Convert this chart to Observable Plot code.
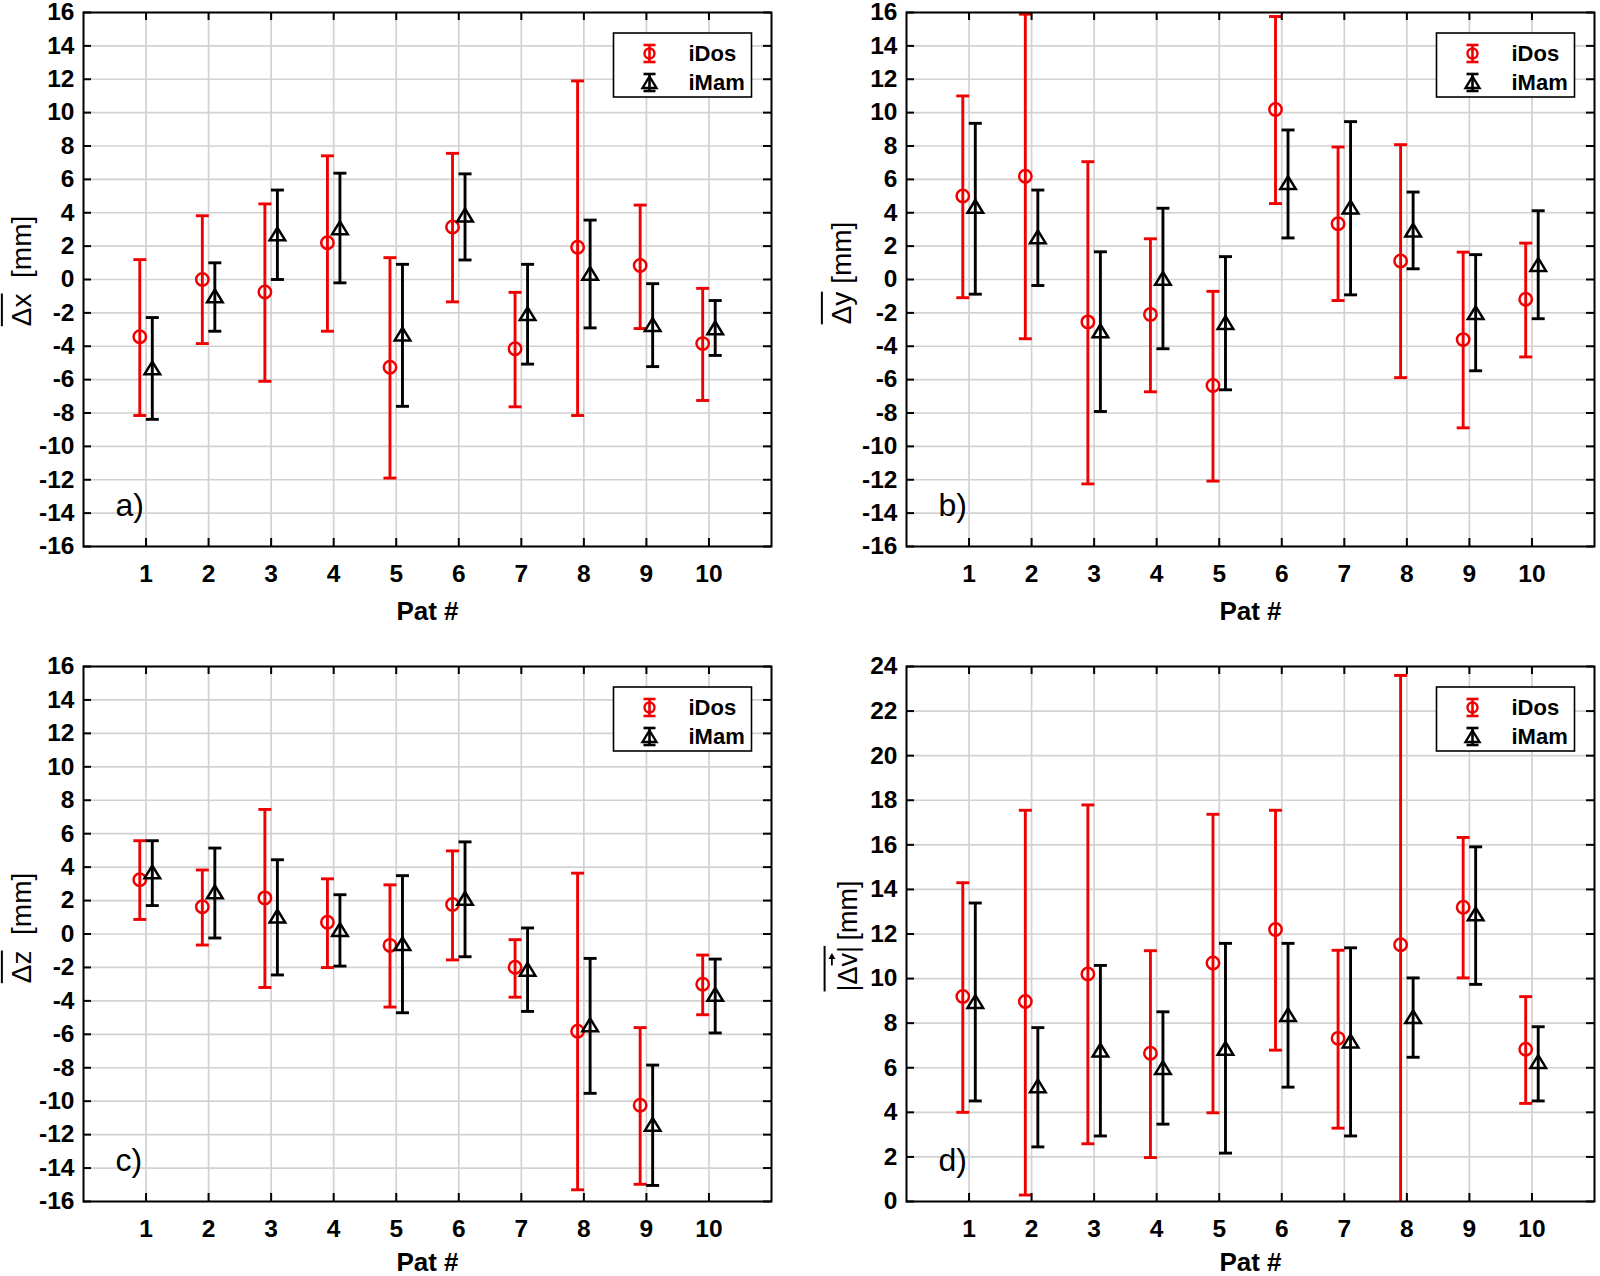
<!DOCTYPE html>
<html>
<head>
<meta charset="utf-8">
<script src="https://cdn.jsdelivr.net/npm/d3@7"></script>
<script src="https://cdn.jsdelivr.net/npm/@observablehq/plot@0.6"></script>
<style>
  html, body { margin: 0; padding: 0; background: #fff; }
  #root { position: relative; width: 1600px; height: 1276px; background: #fff; overflow: hidden; }
</style>
</head>
<body>
<div id="root"></div>
<script>
// ---------------- data ----------------
const pats = [1, 2, 3, 4, 5, 6, 7, 8, 9, 10];
const ticksPM16 = [-16, -14, -12, -10, -8, -6, -4, -2, 0, 2, 4, 6, 8, 10, 12, 14, 16];
const ticks0to24 = [0, 2, 4, 6, 8, 10, 12, 14, 16, 18, 20, 22, 24];
const seriesNames = ["iDos", "iMam"];

// a) mean Δx
const dxIDosMean = [-3.43, 0.0, -0.75, 2.2, -5.26, 3.15, -4.15, 1.93, 0.84, -3.84];
const dxIDosLow  = [-8.15, -3.84, -6.1, -3.1, -11.9, -1.34, -7.63, -8.15, -2.94, -7.25];
const dxIDosHigh = [1.19, 3.82, 4.53, 7.41, 1.31, 7.56, -0.77, 11.9, 4.46, -0.53];
const dxIMamMean = [-5.3, -0.98, 2.73, 3.1, -3.27, 3.86, -2.05, 0.37, -2.7, -2.9];
const dxIMamLow  = [-8.38, -3.1, 0.0, -0.2, -7.6, 1.17, -5.07, -2.9, -5.22, -4.55];
const dxIMamHigh = [-2.28, 1.0, 5.36, 6.37, 0.91, 6.33, 0.91, 3.56, -0.25, -1.26];

// b) mean Δy
const dyIDosMean = [5.0, 6.19, -2.54, -2.09, -6.35, 10.19, 3.34, 1.11, -3.6, -1.18];
const dyIDosLow  = [-1.09, -3.55, -12.25, -6.73, -12.08, 4.55, -1.26, -5.88, -8.89, -4.64];
const dyIDosHigh = [11.0, 15.9, 7.06, 2.44, -0.71, 15.76, 7.94, 8.08, 1.64, 2.18];
const dyIMamMean = [4.38, 2.56, -3.08, 0.07, -2.58, 5.8, 4.34, 2.96, -1.99, 0.9];
const dyIMamLow  = [-0.88, -0.36, -7.91, -4.15, -6.61, 2.49, -0.92, 0.64, -5.47, -2.35];
const dyIMamHigh = [9.36, 5.36, 1.66, 4.27, 1.37, 8.96, 9.46, 5.24, 1.49, 4.12];

// c) mean Δz
const dzIDosMean = [3.25, 1.63, 2.16, 0.7, -0.68, 1.77, -1.99, -5.82, -10.24, -3.0];
const dzIDosLow  = [0.87, -0.66, -3.2, -2.01, -4.37, -1.55, -3.78, -15.3, -14.97, -4.83];
const dzIDosHigh = [5.58, 3.83, 7.45, 3.3, 2.94, 4.97, -0.34, 3.64, -5.6, -1.26];
const dzIMamMean = [3.71, 2.52, 1.07, 0.27, -0.58, 2.13, -2.11, -5.43, -11.38, -3.61];
const dzIMamLow  = [1.7, -0.24, -2.45, -1.92, -4.71, -1.36, -4.63, -9.53, -15.04, -5.92];
const dzIMamHigh = [5.58, 5.14, 4.44, 2.35, 3.49, 5.51, 0.36, -1.46, -7.84, -1.5];

// d) mean |Δv|
const dvIDosMean = [9.2, 8.97, 10.21, 6.65, 10.7, 12.2, 7.32, 11.52, 13.2, 6.83];
const dvIDosLow  = [4.0, 0.29, 2.59, 1.97, 3.98, 6.79, 3.29, -0.6, 10.03, 4.4];
const dvIDosHigh = [14.3, 17.55, 17.79, 11.25, 17.37, 17.55, 11.27, 23.6, 16.33, 9.19];
const dvIMamMean = [8.97, 5.19, 6.79, 6.01, 6.87, 8.38, 7.2, 8.29, 12.9, 6.28];
const dvIMamLow  = [4.51, 2.45, 2.94, 3.47, 2.17, 5.13, 2.94, 6.47, 9.74, 4.51];
const dvIMamHigh = [13.39, 7.8, 10.59, 8.51, 11.58, 11.58, 11.38, 10.03, 15.91, 7.84];

// ---------------- styling ----------------
const FONT = "'Liberation Sans', Arial, Helvetica, sans-serif";
const RED = "#f00000";
const BLACK = "#000000";
const GRID = "#d2d2d2";
const offsets = {iDos: -0.1, iMam: 0.1};
const xDomain = [0, 11];

function makeTable(series, mean, low, high) {
  return pats.map((p, i) => ({series, pat: p, mean: mean[i], low: low[i], high: high[i]}));
}

const capSymbol = {draw(ctx, size) { const r = Math.sqrt(size / Math.PI); ctx.moveTo(-r, 0); ctx.lineTo(r, 0); }};
const triSymbol = {draw(ctx, size) { const r = Math.sqrt(size / Math.PI); const h = r * 0.82;
  ctx.moveTo(0, -h); ctx.lineTo(r, h); ctx.lineTo(-r, h); ctx.closePath(); }};

function seriesMarks(rows, color, symbol, r) {
  const x = d => d.pat + offsets[d.series];
  return [
    Plot.ruleX(rows, {x, y1: "low", y2: "high", stroke: color, strokeWidth: 2.9, clip: true}),
    Plot.dot(rows, {x, y: "low", symbol: capSymbol, r: 6.5, stroke: color, strokeWidth: 2.9, fill: "none", clip: true}),
    Plot.dot(rows, {x, y: "high", symbol: capSymbol, r: 6.5, stroke: color, strokeWidth: 2.9, fill: "none", clip: true}),
    Plot.dot(rows, {x, y: "mean", symbol, r, stroke: color, strokeWidth: 2.5, fill: "none"})
  ];
}

const panels = [
  {letter: "a)", left: 0, top: 0, height: 640, mT: 12, mB: 94, mL: 83, mR: 29, pat: 73,
   yDomain: [-16, 16], yTicks: ticksPM16,
   iDos: makeTable("iDos", dxIDosMean, dxIDosLow, dxIDosHigh),
   iMam: makeTable("iMam", dxIMamMean, dxIMamLow, dxIMamHigh),
   ylab: {parts: ["\u0394x", "\u00a0\u00a0[mm]"], over: 2, x: 31, y: 271, size: 28, overY: 1.04}},
  {letter: "b)", left: 800, top: 0, height: 640, mT: 12, mB: 94, mL: 106, mR: 6, pat: 73,
   yDomain: [-16, 16], yTicks: ticksPM16,
   iDos: makeTable("iDos", dyIDosMean, dyIDosLow, dyIDosHigh),
   iMam: makeTable("iMam", dyIMamMean, dyIMamLow, dyIMamHigh),
   ylab: {parts: ["\u0394y", "\u00a0[mm]"], over: 2, x: 51, y: 273, size: 28, overY: 1.04}},
  {letter: "c)", left: 0, top: 640, height: 636, mT: 26, mB: 75, mL: 83, mR: 29, pat: 69,
   yDomain: [-16, 16], yTicks: ticksPM16,
   iDos: makeTable("iDos", dzIDosMean, dzIDosLow, dzIDosHigh),
   iMam: makeTable("iMam", dzIMamMean, dzIMamLow, dzIMamHigh),
   ylab: {parts: ["\u0394z", "\u00a0\u00a0[mm]"], over: 2, x: 31, y: 288, size: 28, overY: 1.04}},
  {letter: "d)", left: 800, top: 640, height: 636, mT: 26, mB: 75, mL: 106, mR: 6, pat: 69,
   yDomain: [0, 24], yTicks: ticks0to24,
   iDos: makeTable("iDos", dvIDosMean, dvIDosLow, dvIDosHigh),
   iMam: makeTable("iMam", dvIMamMean, dvIMamLow, dvIMamHigh),
   ylab: {parts: ["|\u0394v|", "\u2009[mm]"], over: 4, arrowChar: 2, x: 57, y: 296, size: 27, overY: 1.2}}
];

const root = document.getElementById("root");
const W = 800;

function addYLabel(svg, cfg) {
  const g = d3.select(svg).append("g").attr("transform", `translate(${cfg.x},${cfg.y}) rotate(-90)`);
  const t = g.append("text").attr("text-anchor", "middle").attr("font-family", FONT)
    .attr("font-size", cfg.size).attr("fill", BLACK);
  cfg.parts.forEach(p => t.append("tspan").text(p));
  const n = t.node();
  const x0 = n.getStartPositionOfChar(0).x;
  const x1 = n.getEndPositionOfChar(cfg.over - 1).x;
  const oy = -cfg.size * cfg.overY;
  g.append("line").attr("x1", x0).attr("x2", x1).attr("y1", oy).attr("y2", oy)
    .attr("stroke", BLACK).attr("stroke-width", 2);
  if (cfg.arrowChar != null) {
    const a0 = n.getStartPositionOfChar(cfg.arrowChar).x + 1;
    const a1 = n.getEndPositionOfChar(cfg.arrowChar).x;
    const ay = -cfg.size * 0.93;
    g.append("line").attr("x1", a0).attr("x2", a1 - 4).attr("y1", ay).attr("y2", ay)
      .attr("stroke", BLACK).attr("stroke-width", 1.8);
    g.append("path").attr("d", `M${a1},${ay} L${a1 - 6},${ay - 3.5} L${a1 - 6},${ay + 3.5} Z`).attr("fill", BLACK);
  }
}

function addLegend(svg, frameRight, frameTop) {
  const Wl = 138, Hl = 64;
  const x0 = frameRight - 19.5 - Wl, y0 = frameTop + 21;
  const g = d3.select(svg).append("g");
  g.append("rect").attr("x", x0).attr("y", y0).attr("width", Wl).attr("height", Hl)
    .attr("fill", "#fff").attr("stroke", BLACK).attr("stroke-width", 1.6);
  const rows = [{name: seriesNames[0], color: RED, dy: 20.5, sym: "circle"},
                {name: seriesNames[1], color: BLACK, dy: 49.5, sym: "tri"}];
  rows.forEach(r => {
    const cx = x0 + 36, cy = y0 + r.dy;
    g.append("line").attr("x1", cx).attr("x2", cx).attr("y1", cy - 8.5).attr("y2", cy + 8.5)
      .attr("stroke", r.color).attr("stroke-width", 2.6);
    [cy - 8.5, cy + 8.5].forEach(yy => g.append("line").attr("x1", cx - 6).attr("x2", cx + 6)
      .attr("y1", yy).attr("y2", yy).attr("stroke", r.color).attr("stroke-width", 2.6));
    if (r.sym === "circle") {
      g.append("circle").attr("cx", cx).attr("cy", cy).attr("r", 5).attr("fill", "none")
        .attr("stroke", r.color).attr("stroke-width", 2.4);
    } else {
      g.append("path").attr("d", `M${cx},${cy - 6} L${cx + 7},${cy + 5.5} L${cx - 7},${cy + 5.5} Z`)
        .attr("fill", "none").attr("stroke", r.color).attr("stroke-width", 2.4);
    }
    g.append("text").attr("x", x0 + 75).attr("y", cy).attr("dy", "0.36em")
      .attr("text-anchor", "start")
      .attr("font-family", FONT).attr("font-size", 22).attr("font-weight", "bold")
      .attr("fill", BLACK).text(r.name);
  });
}

panels.forEach(p => {
  const innerW = W - p.mL - p.mR;
  const innerH = p.height - p.mT - p.mB;
  const [y0, y1] = p.yDomain;
  const tx = 8 * (xDomain[1] - xDomain[0]) / innerW;
  const ty = 8 * (y1 - y0) / innerH;
  const tickStyle = {stroke: BLACK, strokeWidth: 2};
  const svg = Plot.plot({
    width: W, height: p.height,
    marginTop: p.mT, marginBottom: p.mB, marginLeft: p.mL, marginRight: p.mR,
    x: {domain: xDomain},
    y: {domain: p.yDomain},
    style: {fontFamily: FONT, color: BLACK, background: "transparent", overflow: "visible"},
    marks: [
      Plot.gridX(pats, {stroke: GRID, strokeOpacity: 1, strokeWidth: 1.7}),
      Plot.gridY(p.yTicks, {stroke: GRID, strokeOpacity: 1, strokeWidth: 1.7}),
      Plot.axisX(pats, {anchor: "bottom", tickSize: 0, tickPadding: 18, fontSize: 24.5, fontWeight: "bold",
        label: null, tickFormat: d => String(d)}),
      Plot.axisY(p.yTicks, {anchor: "left", tickSize: 0, tickPadding: 9, fontSize: 24.5, fontWeight: "bold",
        label: null, tickFormat: d => String(d)}),
      ...seriesMarks(p.iDos, RED, "circle", 6.2),
      ...seriesMarks(p.iMam, BLACK, triSymbol, 7.8),
      Plot.ruleX(pats, {x: d => d, y1: () => y0, y2: () => y0 + ty, ...tickStyle}),
      Plot.ruleX(pats, {x: d => d, y1: () => y1 - ty, y2: () => y1, ...tickStyle}),
      Plot.ruleY(p.yTicks, {y: d => d, x1: () => xDomain[0], x2: () => xDomain[0] + tx, ...tickStyle}),
      Plot.ruleY(p.yTicks, {y: d => d, x1: () => xDomain[1] - tx, x2: () => xDomain[1], ...tickStyle}),
      Plot.frame({stroke: BLACK, strokeWidth: 2}),
      Plot.text([p.letter], {text: d => d, frameAnchor: "bottom-left", dx: 32, dy: -41,
        textAnchor: "start", lineAnchor: "middle", fontSize: 32, fill: BLACK}),
      Plot.text(["Pat #"], {text: d => d, frameAnchor: "bottom", dy: p.pat, lineAnchor: "bottom",
        fontSize: 26, fontWeight: "bold", fill: BLACK})
    ]
  });
  svg.style.position = "absolute";
  svg.style.left = p.left + "px";
  svg.style.top = p.top + "px";
  svg.style.maxWidth = "none";
  root.appendChild(svg);
  addYLabel(svg, p.ylab);
  addLegend(svg, W - p.mR, p.mT);
});
</script>
</body>
</html>
